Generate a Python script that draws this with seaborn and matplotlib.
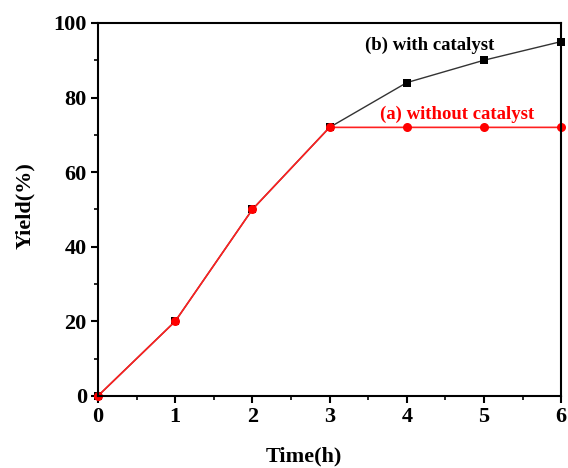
import matplotlib
matplotlib.use("Agg")
import matplotlib.pyplot as plt
import seaborn as sns
import pandas as pd
from matplotlib.ticker import MultipleLocator

time_h = [0, 1, 2, 3, 4, 5, 6]
yield_with = [0, 20, 50, 72, 84, 90, 95]
yield_without = [0, 20, 50, 72, 72, 72, 72]
label_with = "(b) with catalyst"
label_without = "(a) without catalyst"

sns.set_style("ticks")
plt.rcParams['font.family'] = ['Liberation Serif', 'DejaVu Serif']
plt.rcParams['font.weight'] = 'bold'
plt.rcParams['text.color'] = 'black'
plt.rcParams['axes.labelcolor'] = 'black'
plt.rcParams['xtick.color'] = 'black'
plt.rcParams['ytick.color'] = 'black'

fig = plt.figure(figsize=(5.68, 4.68), dpi=100)
ax = fig.add_axes([0.1725, 0.154, 0.8155, 0.797])

df_w = pd.DataFrame({"t": time_h, "y": yield_with})
df_o = pd.DataFrame({"t": time_h, "y": yield_without})
sns.lineplot(data=df_w, x="t", y="y", ax=ax, color="#333333", lw=1.0,
             marker="s", markersize=6, markeredgewidth=0, markerfacecolor="black", clip_on=False)
sns.lineplot(data=df_o, x="t", y="y", ax=ax, color="#ff2020", lw=1.2,
             marker="o", markersize=6.5, markeredgewidth=0, markerfacecolor="#ff0000", clip_on=False)

ax.set_xlim(0, 6)
ax.set_ylim(0, 100)
ax.xaxis.set_major_locator(MultipleLocator(1))
ax.xaxis.set_minor_locator(MultipleLocator(0.5))
ax.yaxis.set_major_locator(MultipleLocator(20))
ax.yaxis.set_minor_locator(MultipleLocator(10))
ax.tick_params(which='major', direction='out', length=5, width=1.5, labelsize=16, pad=3, colors='black')
ax.tick_params(which='minor', direction='out', length=3, width=1.2, colors='black')
for s in ax.spines.values():
    s.set_linewidth(1.5)
    s.set_color('black')
for lab in ax.get_xticklabels() + ax.get_yticklabels():
    lab.set_fontweight('bold')

ax.set_xlabel("Time(h)", fontsize=16, fontweight='bold', color='black')
ax.set_ylabel("Yield(%)", fontsize=16, fontweight='bold', color='black')
ax.xaxis.set_label_coords(0.445, -0.135)
ax.yaxis.set_label_coords(-0.135, 0.51)

ax.text(4.30, 94, label_with, fontsize=13.5, fontweight='bold', color='black', ha='center', va='center')
ax.text(4.65, 75.4, label_without, fontsize=13.5, fontweight='bold', color='#ff0000', ha='center', va='center')

fig.savefig("out.png", dpi=100)
